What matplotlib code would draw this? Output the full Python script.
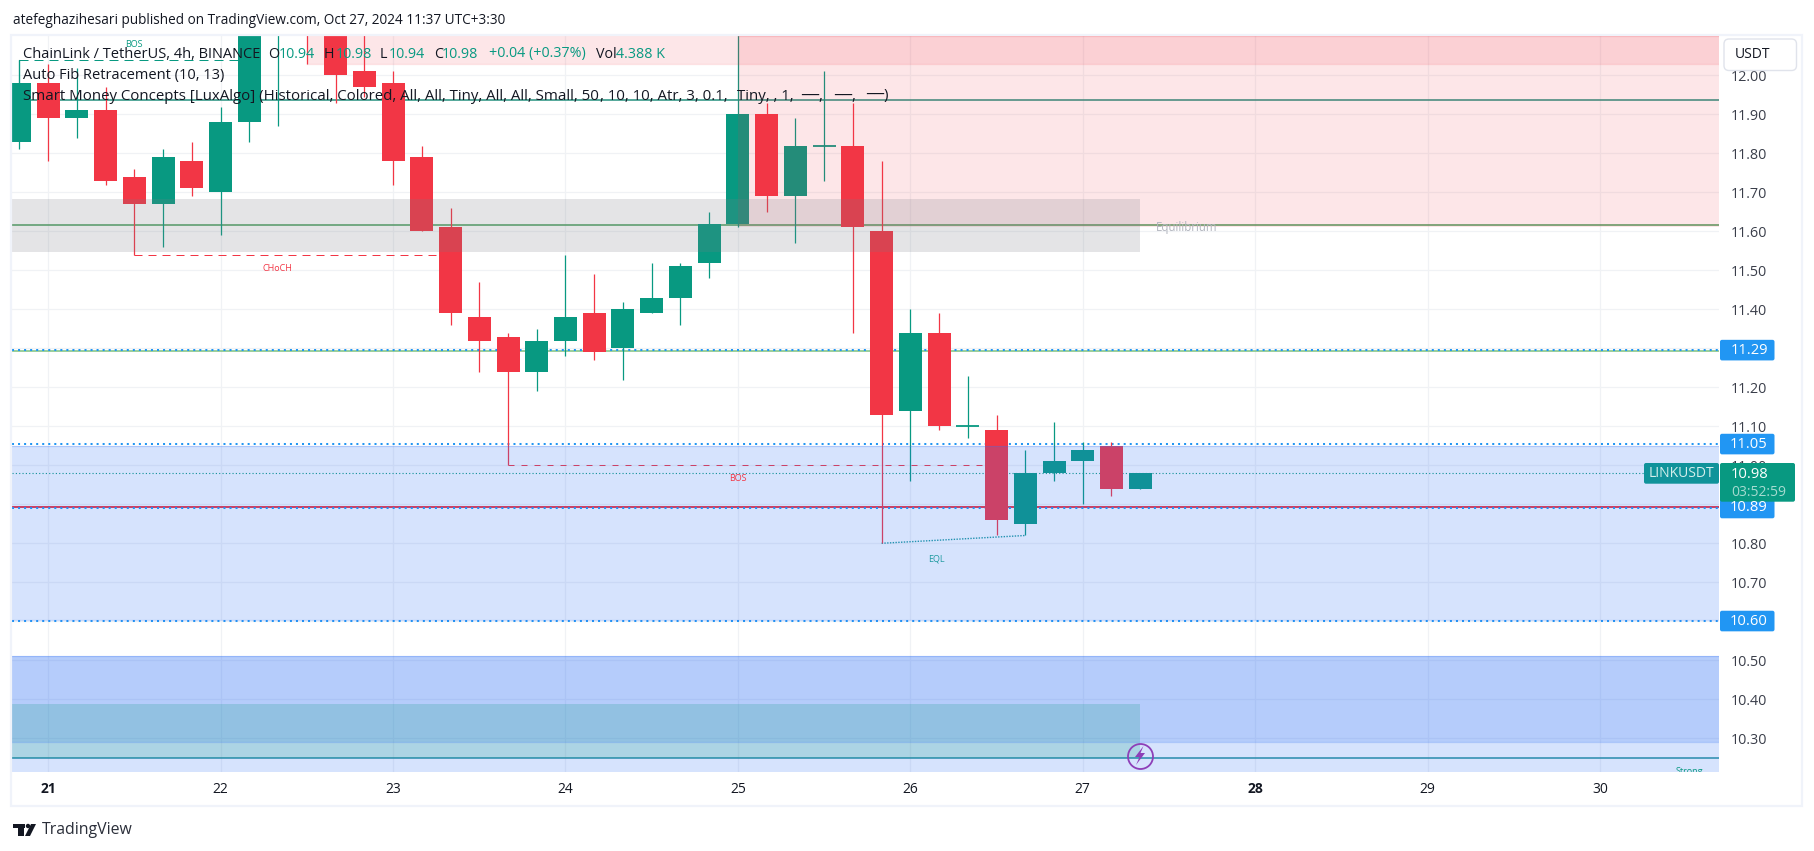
import matplotlib
matplotlib.use('Agg')
import matplotlib.pyplot as plt
from matplotlib.patches import FancyBboxPatch, Rectangle, Circle, Polygon
from matplotlib.transforms import IdentityTransform

W, H = 1814, 851
GREEN = '#089981'
RED = '#F23645'
BLUE = '#2196F3'
DARK = '#131722'

plt.rcParams['font.family'] = ['Open Sans', 'DejaVu Sans']

# 4h candles, first one sits one bar before the 21st
first_bar = 20 + 5 / 6
opens = [11.83, 11.98, 11.89, 11.91, 11.74, 11.67, 11.78, 11.70, 11.88, 12.12,
         12.20, 12.15, 12.01, 11.98, 11.79, 11.61, 11.38, 11.33, 11.24, 11.32,
         11.39, 11.30, 11.39, 11.43, 11.52, 11.62, 11.90, 11.69, 11.82, 11.82,
         11.60, 11.14, 11.34, 11.10, 11.09, 10.85, 10.98, 11.01, 11.05]
highs = [12.04, 12.03, 12.02, 11.97, 11.76, 11.81, 11.83, 11.92, 12.14, 12.30,
         12.25, 12.22, 12.12, 12.01, 11.82, 11.66, 11.47, 11.34, 11.35, 11.54,
         11.49, 11.42, 11.52, 11.52, 11.65, 12.12, 11.93, 11.89, 12.01, 11.93,
         11.78, 11.40, 11.39, 11.23, 11.13, 11.04, 11.11, 11.06, 11.06]
lows = [11.81, 11.78, 11.84, 11.72, 11.54, 11.56, 11.69, 11.59, 11.83, 11.87,
        12.03, 11.93, 11.945, 11.72, 11.60, 11.36, 11.24, 11.00, 11.19, 11.28,
        11.27, 11.22, 11.39, 11.36, 11.48, 11.61, 11.65, 11.57, 11.73, 11.34,
        10.80, 10.96, 11.09, 11.07, 10.82, 10.82, 10.96, 10.90, 10.92]
closes = [11.98, 11.89, 11.91, 11.73, 11.67, 11.79, 11.71, 11.88, 12.12, 12.20,
          12.12, 12.00, 11.97, 11.78, 11.60, 11.39, 11.32, 11.24, 11.32, 11.38,
          11.29, 11.40, 11.43, 11.51, 11.62, 11.90, 11.69, 11.82, 11.82, 11.61,
          11.13, 11.34, 11.10, 11.10, 10.86, 10.98, 11.01, 11.04, 10.94]
last_open, last_high, last_low, last_close = 10.94, 10.98, 10.94, 10.98

days = [21, 22, 23, 24, 25, 26, 27, 28, 29, 30]
bold_days = [21, 28]
price_ticks = [12.0, 11.9, 11.8, 11.7, 11.6, 11.5, 11.4, 11.3, 11.2, 11.1, 11.0,
               10.9, 10.8, 10.7, 10.6, 10.5, 10.4, 10.3]
blue_levels = [11.295, 11.054, 10.89, 10.60]
blue_tags = ['11.29', '11.05', '10.89', '10.60']
legend_fib = 'Auto Fib Retracement (10, 13)'
legend_smc = ['Smart Money Concepts [LuxAlgo] (Historical, Colored, All, All, Tiny, All, All, Small, 50',
              ', 10, 10, Atr, 3, 0.1,', 'Tiny, , 1,', '──,', '──,', '──)']


def fx(x):
    return x / W


def fy(y):
    return 1 - y / H


# text placed in screen pixels, y going down
def label(x, y, s, color=DARK, size=10.0, ha='left', **kw):
    return fig.text(fx(x), fy(y), s, color=color, fontsize=size, ha=ha, va='center', zorder=8, **kw)


def tag(x0, y0, x1, y1, color, r=2, edge='none', lw=0):
    box = FancyBboxPatch((x0 + r, H - y1 + r), x1 - x0 - 2 * r, y1 - y0 - 2 * r,
                         boxstyle=f'round,pad={r},rounding_size={r}', fc=color, ec=edge, lw=lw,
                         transform=IdentityTransform(), zorder=6)
    fig.add_artist(box)


fig = plt.figure(figsize=(W / 100, H / 100), dpi=100, facecolor='white')
ax = fig.add_axes([fx(12), fy(772), fx(1719 - 12), (772 - 36) / H])
ax.set_xlim(20.79, 30.69)
ax.set_ylim(10.2135, 12.1009)
for s in ax.spines.values():
    s.set_visible(False)

# grid and price / time scales
ax.set_axisbelow(True)
ax.grid(True, color='#F0F2F5', lw=0.9)
ax.set_xticks(days)
ax.set_xticklabels([str(d) for d in days], fontsize=10, color=DARK)
for t, d in zip(ax.get_xticklabels(), days):
    if d in bold_days:
        t.set_fontweight('bold')
ax.yaxis.tick_right()
ax.set_yticks(price_ticks)
ax.set_yticklabels([f'{p:.2f}' for p in price_ticks], fontsize=10.4, color='#3a3e4a')
ax.tick_params(axis='x', length=0, pad=7.5)
ax.tick_params(axis='y', length=0, pad=8.2)

# horizontal levels under the candles
ax.axhline(11.936, color='#26917F', lw=1.1, zorder=2)
ax.axhline(11.615, color='#4C9F5F', lw=1.1, zorder=2)
ax.axhline(11.292, color='#7DC17F', lw=1.1, zorder=2)
ax.axhline(10.894, color='#F0202F', lw=1.3, zorder=2)
ax.axhline(10.249, color='#26919B', lw=1.1, zorder=2)
for lv in blue_levels:
    ax.axhline(lv, color=BLUE, lw=1.45, ls=(0, (1, 2)), zorder=2.2)
ax.axhline(last_close, color=GREEN, lw=0.8, ls=(0, (1, 2)), zorder=2)

# structure lines
ax.plot([first_bar, 21 + 7 / 6], [12.04, 12.04], color=GREEN, lw=0.72, ls=(0, (9, 6)), zorder=2)
ax.plot([first_bar, first_bar], [12.04, 11.98], color=GREEN, lw=0.8, zorder=2)
ax.plot([21 + 3 / 6, 21 + 14 / 6], [11.54, 11.54], color=RED, lw=0.72, ls=(0, (8, 6)), zorder=2)
ax.plot([21 + 16 / 6, 21 + 33 / 6], [11.00, 11.00], color=RED, lw=0.72, ls=(0, (6, 7)), zorder=2)
ax.plot([21 + 29 / 6, 21 + 34 / 6], [10.80, 10.82], color='#1E9AA0', lw=1.0, ls=(0, (1, 1)), zorder=2)

# candles
all_o = opens + [last_open]
all_h = highs + [last_high]
all_l = lows + [last_low]
all_c = closes + [last_close]
body_w = 23 / 172.4
for i in range(len(all_o)):
    x = first_bar + i / 6
    o, h, l, c = all_o[i], all_h[i], all_l[i], all_c[i]
    col = GREEN if c >= o else RED
    ax.vlines(x, l, h, color=col, lw=0.9, zorder=3)
    if abs(o - c) < 0.001:
        ax.hlines(o, x - body_w / 2, x + body_w / 2, color=col, lw=1.3, zorder=3)
    else:
        ax.bar(x, abs(c - o), bottom=min(o, c), width=body_w, color=col, lw=0, zorder=3)

# zones go over the candles
box_left, box_right = 20.79, 21 + 38 / 6 + 0.001
ax.fill_between([25, 30.69], 11.612, 12.1009, color=RED, alpha=0.12, lw=0, zorder=4)
ax.fill_between([21 + 9 / 6, 30.69], 12.03, 12.1009, color=RED, alpha=0.12, lw=0, zorder=4)
ax.plot([21 + 9 / 6, 30.69], [12.03, 12.03], color=RED, alpha=0.15, lw=0.9, zorder=4)
ax.plot([25, 30.69], [12.1, 12.1], color=RED, alpha=0.2, lw=0.9, zorder=4)
ax.fill_between([box_left, box_right], 11.5475, 11.683, color='#787B86', alpha=0.2, lw=0, zorder=4)
ax.axhspan(10.603, 11.049, color='#3273F5', alpha=0.2, lw=0, zorder=4)
ax.axhspan(10.2135, 10.51, color='#3273F5', alpha=0.2, lw=0, zorder=4)
ax.axhspan(10.29, 10.51, color='#3273F5', alpha=0.2, lw=0, zorder=4)
ax.fill_between([box_left, box_right], 10.249, 10.387, color=GREEN, alpha=0.2, lw=0, zorder=4)
for lv in [11.049, 10.603, 10.51, 10.29]:
    ax.axhline(lv, color='#3273F5', alpha=0.25, lw=0.9, zorder=4)

# small labels on the pane
ax.text(21 + 2.97 / 6, 12.078, 'BOS', color=GREEN, fontsize=6.5, ha='center', va='center', zorder=5)
ax.text(22.33, 11.505, 'CHoCH', color=RED, fontsize=6.5, ha='center', va='center', zorder=5)
ax.text(25, 10.965, 'BOS', color=RED, fontsize=6.5, ha='center', va='center', zorder=5)
ax.text(26.15, 10.76, 'EQL', color='#1E9AA0', fontsize=6.5, ha='center', va='center', zorder=5)
ax.text(27.6, 11.61, 'Equilibrium', color='#B2B5BE', fontsize=8.3, ha='center', va='center', zorder=5)
ax.text(30.52, 10.2155, 'Strong', color=GREEN, fontsize=6.5, ha='center', va='center', zorder=5, clip_on=True)

# lightning circle
ax.plot([21 + 38 / 6], [10.2552], marker='o', ms=18, mfc='none', mec='#8E3FB8', mew=1.3, zorder=6, clip_on=False)
fig.add_artist(Polygon([(1143.5, H - 746), (1135, H - 757), (1139.5, H - 757), (1136, H - 765),
                        (1145, H - 753), (1140.5, H - 753)], fc='#8E3FB8', ec='none',
                       transform=IdentityTransform(), zorder=6))

# outer frame
fig.add_artist(Rectangle((10.5, H - 806), 1791, 806 - 35, fc='none', ec='#F0F3FA', lw=1.6,
                         transform=IdentityTransform(), zorder=1))

# header and legend
label(13, 20, 'atefeghazihesari published on TradingView.com, Oct 27, 2024 11:37 UTC+3:30', size=9.8)
label(23, 54, 'ChainLink / TetherUS, 4h, BINANCE', size=10.5)
for x, s, c in [(268, 'O', DARK), (279, '10.94', GREEN), (324, 'H', DARK), (336, '10.98', GREEN),
                (380, 'L', DARK), (389, '10.94', GREEN), (434, 'C', DARK), (442, '10.98', GREEN),
                (489, '+0.04 (+0.37%)', GREEN), (596, 'Vol', DARK), (616, '4.388 K', GREEN)]:
    label(x, 54, s, color=c, size=10.3)
label(23, 75, legend_fib, size=10.5)
label(23, 96, legend_smc[0], size=10.8)
for x, s in zip([600, 737, 801, 834, 866], legend_smc[1:]):
    label(x, 96, s, size=10.8)

# currency button
tag(1724, 39, 1796.5, 70.5, 'white', r=5, edge='#E0E3EB', lw=1)
label(1753, 55, 'USDT', ha='center', size=10)

# price tags on the scale
for s, lv in zip(blue_tags, blue_levels):
    y = 114.3 + (11.9 - lv) * 389.8
    tag(1720, y - 10.3, 1774.5, y + 10.3, BLUE)
    label(1749, y, s, color='white', ha='center', size=10.6)
tag(1644, 463, 1719, 483.7, '#10939A')
label(1681.5, 473.5, 'LINKUSDT', color='#D5EFEC', ha='center', size=10)
tag(1720, 463, 1795, 501.7, GREEN)
label(1731, 474, '10.98', color='white', size=10.6)
label(1731, 492, '03:52:59', color='#A5DBD0', size=10)

# TradingView mark
logo_col = '#131722'
fig.add_artist(Polygon([(13, H - 824), (25, H - 824), (25, H - 828), (13, H - 828)], fc=logo_col, ec='none',
                       transform=IdentityTransform(), zorder=8))
fig.add_artist(Rectangle((18, H - 836), 6, 8, fc=logo_col, ec='none', transform=IdentityTransform(), zorder=8))
fig.add_artist(Circle((28, H - 826), 2.2, fc=logo_col, ec='none', transform=IdentityTransform(), zorder=8))
fig.add_artist(Polygon([(31, H - 824), (36, H - 824), (30, H - 836), (25, H - 836)], fc=logo_col, ec='none',
                       transform=IdentityTransform(), zorder=8))
label(42, 830, 'TradingView', size=11.4, color='#2a2e39')

fig.savefig('out.png', dpi=100)
